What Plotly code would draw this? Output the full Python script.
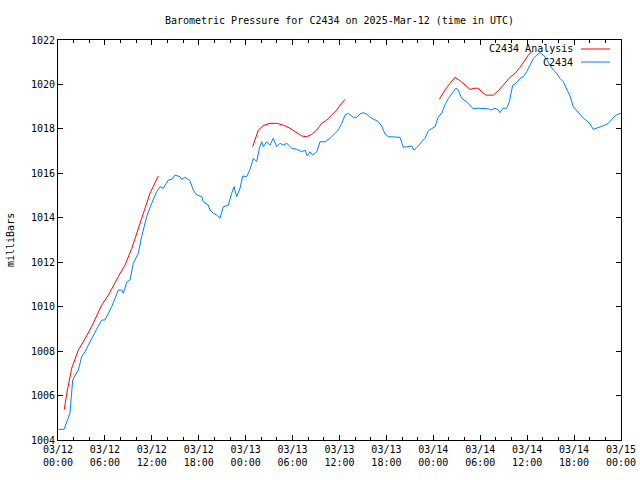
import pandas as pd
import plotly.graph_objects as go

BASE = pd.Timestamp("2025-03-12 00:00")

# Observations (hours after 03/12 00:00 UTC, millibars)
obs_hours = [0.04, 0.77, 1.53, 1.75, 1.88, 2.6, 3.03, 3.45, 4.09, 4.95, 5.59, 6.01, 6.87, 7.71, 8.15, 8.35,
             8.79, 9.21, 9.63, 10.27, 10.7, 11.34, 11.98, 12.62, 13.05, 13.47, 14.11, 14.54, 14.96, 15.6,
             15.82, 16.24, 16.88, 17.3, 17.74, 18.38, 18.58, 19.22, 19.44, 19.86, 20.3, 20.72, 21.14, 21.78,
             22.21, 22.51, 22.85, 23.28, 23.62, 24.13, 24.56, 24.98, 25.41, 25.75, 26.05, 26.26, 26.69, 27.11,
             27.53, 27.97, 28.39, 28.81, 29.25, 29.89, 30.53, 31.17, 31.59, 31.88, 32.23, 32.57, 33.09, 33.51,
             34.15, 34.79, 35.43, 35.85, 36.28, 36.71, 37.13, 37.77, 38.2, 38.62, 39.05, 39.48, 39.9, 40.54,
             40.96, 41.4, 41.82, 42.24, 42.68, 43.1, 43.74, 44.16, 44.8, 45.24, 45.53, 46.08, 46.51, 46.94,
             47.36, 47.79, 48.22, 48.64, 49.07, 49.49, 49.92, 50.56, 50.9, 51.19, 51.63, 52.27, 52.69, 53.11,
             53.75, 54.39, 55.03, 55.47, 55.89, 56.31, 56.53, 56.87, 57.38, 57.72, 58.15, 58.57, 59.09, 59.51,
             59.94, 60.37, 60.79, 61.22, 61.64, 62.07, 62.5, 62.92, 63.34, 63.78, 64.2, 64.62, 65.06, 65.48,
             65.9, 66.34, 66.76, 67.18, 67.62, 68.04, 68.46, 68.9, 69.32, 69.96, 70.38, 70.81, 71.23, 71.65, 72.0]
obs_mb = [1004.48, 1004.48, 1005.2, 1006.25, 1006.7, 1007.15, 1007.75, 1007.97, 1008.42, 1009.0, 1009.4, 1009.4,
          1010.0, 1010.75, 1010.75, 1010.6, 1011.1, 1011.2, 1011.95, 1012.4, 1013.15, 1014.05, 1014.65, 1015.17,
          1015.4, 1015.33, 1015.7, 1015.73, 1015.92, 1015.85, 1015.73, 1015.82, 1015.67, 1015.25, 1015.03,
          1014.95, 1014.72, 1014.57, 1014.35, 1014.2, 1014.12, 1013.98, 1014.5, 1014.57, 1015.1, 1015.4,
          1014.95, 1015.33, 1015.88, 1015.85, 1016.18, 1016.68, 1016.53, 1017.13, 1017.42, 1017.2, 1017.42,
          1017.27, 1017.58, 1017.2, 1017.35, 1017.27, 1017.35, 1017.13, 1017.08, 1016.97, 1017.05, 1016.78,
          1016.97, 1016.82, 1016.97, 1017.42, 1017.42, 1017.58, 1017.8, 1017.95, 1018.25, 1018.62, 1018.7,
          1018.52, 1018.52, 1018.67, 1018.73, 1018.67, 1018.52, 1018.4, 1018.33, 1018.13, 1017.77, 1017.65,
          1017.65, 1017.62, 1017.62, 1017.17, 1017.2, 1017.23, 1017.05, 1017.23, 1017.42, 1017.58, 1017.92,
          1018.03, 1018.1, 1018.55, 1018.7, 1019.08, 1019.37, 1019.67, 1019.83, 1019.75, 1019.37, 1019.22,
          1019.08, 1018.9, 1018.93, 1018.93, 1018.9, 1018.85, 1018.93, 1018.85, 1018.73, 1018.93, 1018.93,
          1019.22, 1019.97, 1020.05, 1020.27, 1020.35, 1020.57, 1020.87, 1021.17, 1021.32, 1021.43, 1021.32,
          1021.13, 1020.87, 1020.65, 1020.5, 1020.27, 1020.12, 1019.75, 1019.48, 1019.0, 1018.82, 1018.62,
          1018.48, 1018.37, 1018.22, 1017.98, 1018.03, 1018.1, 1018.17, 1018.25, 1018.43, 1018.58, 1018.67,
          1018.7]

# Analysis (three segments separated by None)
ana_hours = [0.81, 1.12, 1.75, 2.6, 3.24, 4.3, 5.59, 6.44, 7.71, 8.57, 9.43, 10.27, 10.91, 11.76, 12.83, None,
             24.9, 25.32, 25.62, 26.26, 27.11, 27.97, 28.81, 29.67, 30.53, 31.17, 31.81, 32.45, 33.09, 33.73,
             34.37, 35.0, 35.64, 36.28, 36.71, None,
             48.77, 49.49, 50.13, 50.77, 51.41, 52.05, 52.69, 53.33, 53.75, 54.19, 54.74, 55.67, 56.31, 56.95,
             57.81, 58.45, 59.09, 59.73, 60.15, 60.66]
ana_mb = [1005.38, 1006.1, 1007.23, 1008.05, 1008.42, 1009.1, 1010.07, 1010.52, 1011.35, 1011.87, 1012.62,
          1013.53, 1014.27, 1015.1, 1015.88, None,
          1017.2, 1017.65, 1017.95, 1018.15, 1018.25, 1018.25, 1018.17, 1018.03, 1017.83, 1017.68, 1017.65,
          1017.75, 1017.95, 1018.25, 1018.4, 1018.62, 1018.85, 1019.15, 1019.33, None,
          1019.33, 1019.75, 1020.05, 1020.32, 1020.17, 1019.97, 1019.78, 1019.83, 1019.83, 1019.67, 1019.52,
          1019.52, 1019.72, 1019.97, 1020.32, 1020.5, 1020.77, 1021.1, 1021.32, 1021.5]

tick_hours = list(range(0, 73, 6))
tick_labels = ["03/12<br>00:00", "03/12<br>06:00", "03/12<br>12:00", "03/12<br>18:00",
               "03/13<br>00:00", "03/13<br>06:00", "03/13<br>12:00", "03/13<br>18:00",
               "03/14<br>00:00", "03/14<br>06:00", "03/14<br>12:00", "03/14<br>18:00",
               "03/15<br>00:00"]
y_ticks = list(range(1004, 1023, 2))

RED = "#ff0000"
BLUE = "#0080ff"
FONT = "DejaVu Sans Mono"


def to_time(hours):
    return [None if h is None else BASE + pd.Timedelta(hours=h) for h in hours]


fig = go.Figure()
fig.add_trace(go.Scatter(x=to_time(ana_hours), y=ana_mb, mode="lines", name="C2434 Analysis",
                         line=dict(color=RED, width=1), connectgaps=False))
fig.add_trace(go.Scatter(x=to_time(obs_hours), y=obs_mb, mode="lines", name="C2434",
                         line=dict(color=BLUE, width=1)))

L, R, T, B = 58, 19, 40, 40
PW, PH = 640 - L - R, 480 - T - B

fig.update_layout(
    width=640, height=480,
    margin=dict(l=L, r=R, t=T, b=B, pad=0, autoexpand=False),
    paper_bgcolor="white", plot_bgcolor="white",
    showlegend=False,
    font=dict(family=FONT, size=10, color="black"),
    title=dict(text="Barometric Pressure for C2434 on 2025-Mar-12 (time in UTC)",
               x=0.5, xref="paper", xanchor="center", y=1 - 20 / 480, yanchor="middle",
               font=dict(family=FONT, size=10, color="black")),
)

fig.update_xaxes(
    range=[BASE, BASE + pd.Timedelta(hours=72)], automargin=False,
    tickmode="array", tickvals=to_time(tick_hours), ticktext=tick_labels,
    ticks="inside", ticklen=5, tickcolor="black", tickwidth=1,
    minor=dict(ticks="inside", ticklen=3, dtick=2 * 3600 * 1000, tick0=BASE, tickcolor="black", showgrid=False),
    showline=True, linecolor="black", linewidth=1, mirror="allticks",
    showgrid=False, zeroline=False,
    tickfont=dict(family=FONT, size=10, color="black"),
)
fig.update_yaxes(
    range=[1004, 1022], tickmode="array", tickvals=y_ticks, automargin=False,
    ticks="inside", ticklen=5, tickcolor="black", tickwidth=1,
    showline=True, linecolor="black", linewidth=1, mirror="allticks",
    showgrid=False, zeroline=False,
    tickfont=dict(family=FONT, size=10, color="black"),
)

# y-axis title
fig.add_annotation(text="milliBars", xref="paper", yref="paper", x=0, y=0.5, xshift=-48,
                   xanchor="center", yanchor="middle",
                   textangle=-90, showarrow=False, font=dict(family=FONT, size=10, color="black"))

# gnuplot-style key (top right, text then sample line)
key_rows = [("C2434 Analysis", RED, 49), ("C2434", BLUE, 62)]
for label, color, py in key_rows:
    yp = (480 - B - py) / PH
    fig.add_annotation(text=label, xref="paper", yref="paper", x=(575 - L) / PW, y=yp,
                       xanchor="right", yanchor="middle", showarrow=False,
                       font=dict(family=FONT, size=10, color="black"))
    fig.add_shape(type="line", xref="paper", yref="paper", x0=(581 - L) / PW, x1=(610 - L) / PW,
                  y0=yp, y1=yp, line=dict(color=color, width=1))

fig.write_html("out.html")
